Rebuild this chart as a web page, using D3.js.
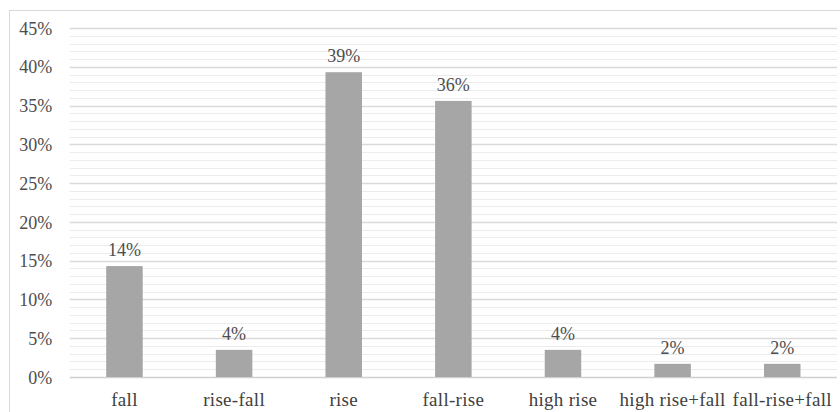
<!DOCTYPE html>
<html><head><meta charset="utf-8">
<script src="https://cdn.jsdelivr.net/npm/d3@7"></script>
<style>body{margin:0;background:#fff}svg{display:block}</style>
</head><body>
<script>
const categories = ["fall","rise-fall","rise","fall-rise","high rise","high rise+fall","fall-rise+fall"];
const values = [14.3, 3.5, 39.3, 35.6, 3.5, 1.7, 1.7];
const labels = ["14%","4%","39%","36%","4%","2%","2%"];
const majorTicks = [0,5,10,15,20,25,30,35,40,45];

const W = 840, H = 412;
const svg = d3.select("body").append("svg").attr("width", W).attr("height", H);
svg.append("rect").attr("x",9.5).attr("y",10.5).attr("width",W).attr("height",H)
  .attr("fill","#fff").attr("stroke","#d9d9d9");

const x = d3.scaleBand().domain(categories).range([69.7, 837]).paddingInner(0.667).paddingOuter(0.333);
const y = d3.scaleLinear().domain([0,45]).range([377, 28]);

const font = "'Liberation Serif','Times New Roman',serif";
const textColor = "#4d4d4d";
// minor gridlines
svg.append("g").selectAll("line").data(d3.range(0,46,1).filter(v=>v%5!==0)).join("line")
  .attr("x1",69.7).attr("x2",837).attr("y1",d=>Math.round(y(d))+0.5).attr("y2",d=>Math.round(y(d))+0.5)
  .attr("stroke","#ececec").attr("stroke-width",1);
// major gridlines + tick labels
const yAxis = d3.axisLeft(y).tickValues(majorTicks).tickFormat(d=>d+"%").tickSize(0).tickPadding(17.5);
const gy = svg.append("g").attr("transform","translate(69.7,0)").call(yAxis);
gy.select(".domain").remove();
gy.selectAll("text").attr("font-family",font).attr("font-size",18).attr("fill",textColor).attr("dy","0.34em");
svg.append("g").selectAll("line").data(majorTicks).join("line")
  .attr("x1",69.7).attr("x2",837).attr("y1",d=>Math.round(y(d))+0.5).attr("y2",d=>Math.round(y(d))+0.5)
  .attr("stroke",d=>d===0?"#d0d0d0":"#dadada").attr("stroke-width",1.3);

svg.append("g").selectAll("rect").data(values).join("rect")
  .attr("x",(d,i)=>x(categories[i])).attr("width",x.bandwidth())
  .attr("y",d=>y(d)).attr("height",d=>y(0)-y(d)).attr("fill","#a6a6a6");

svg.append("g").selectAll("text").data(values).join("text")
  .attr("x",(d,i)=>x(categories[i])+x.bandwidth()/2).attr("y",d=>y(d)-10)
  .attr("text-anchor","middle").attr("font-family",font).attr("font-size",18).attr("fill",textColor)
  .text((d,i)=>labels[i]);

const gx = svg.append("g");
gx.selectAll("text").data(categories).join("text")
  .attr("x",d=>x(d)+x.bandwidth()/2).attr("y",406)
  .attr("text-anchor","middle").attr("font-family",font).attr("font-size",19).attr("fill","#404040")
  .attr("letter-spacing","0.3px")
  .text(d=>d);
</script>
</body></html>
